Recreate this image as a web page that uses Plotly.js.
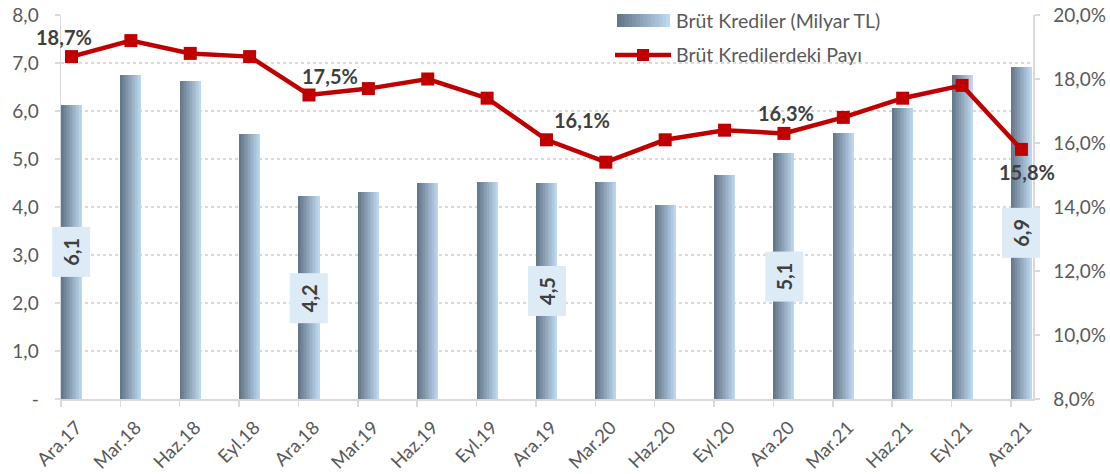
<!DOCTYPE html>
<html>
<head>
<meta charset="utf-8">
<script src="https://cdn.plot.ly/plotly-3.0.1.min.js"></script>
<style>
  html, body { margin: 0; padding: 0; background: #fff; }
  #chart { width: 1110px; height: 474px; }
</style>
</head>
<body>
<div id="chart"></div>
<script>
// ---------- DATA ----------
const categories = ['Ara.17','Mar.18','Haz.18','Eyl.18','Ara.18','Mar.19','Haz.19','Eyl.19','Ara.19','Mar.20','Haz.20','Eyl.20','Ara.20','Mar.21','Haz.21','Eyl.21','Ara.21'];
const krediler = [6.13, 6.74, 6.62, 5.53, 4.22, 4.31, 4.50, 4.52, 4.50, 4.52, 4.04, 4.67, 5.12, 5.55, 6.07, 6.74, 6.92];
const pay = [18.7, 19.2, 18.8, 18.7, 17.5, 17.7, 18.0, 17.4, 16.1, 15.4, 16.1, 16.4, 16.3, 16.8, 17.4, 17.8, 15.8];
const leftTickVals = [0, 1, 2, 3, 4, 5, 6, 7, 8];
const leftTickText = ['-', '1,0', '2,0', '3,0', '4,0', '5,0', '6,0', '7,0', '8,0'];
const rightTickVals = [8, 10, 12, 14, 16, 18, 20];
const rightTickText = ['8,0%', '10,0%', '12,0%', '14,0%', '16,0%', '18,0%', '20,0%'];
const labeledIdx = [0, 4, 8, 12, 16];
const seriesNames = ['Brüt Krediler (Milyar TL)', 'Brüt Kredilerdeki Payı'];

// ---------- STYLE ----------
const FONT = 'Lato, "Liberation Sans", sans-serif';
const TXT = '#595959';
const LBL = '#404040';
const RED = '#C00000';
const GRID = '#D9D9D9';
const W = 0.354;            // bar width (category units)
const NSTRIP = 14;
const dark = [100, 118, 137], light = [189, 215, 238];
function mix(t) {
  const c = dark.map((d, j) => Math.round(d + (light[j] - d) * t));
  return 'rgb(' + c.join(',') + ')';
}
const fmt = v => v.toFixed(1).replace('.', ',');

// plot area in px
const L = 61, R = 1033, T = 15, B = 399;
const px2x = px => (px - L) / (R - L);
const py2y = py => (B - py) / (B - T);

const xs = categories.map((c, i) => i);

const traces = [];
for (let k = 0; k < NSTRIP; k++) {
  const off = -W / 2 + k * W / NSTRIP;
  traces.push({
    type: 'bar', x: xs, y: krediler,
    width: W - k * W / NSTRIP, offset: off,
    marker: { color: mix(k / (NSTRIP - 1)), line: { width: 0 } },
    name: seriesNames[0], showlegend: false, hoverinfo: 'skip'
  });
}
traces.push({
  type: 'scatter', mode: 'lines+markers', x: xs, y: pay, yaxis: 'y2',
  name: seriesNames[1], showlegend: false,
  line: { color: RED, width: 4.5 },
  marker: { symbol: 'square', size: 13, color: RED }
});

const annotations = [];
// bar labels
labeledIdx.forEach(i => {
  annotations.push({
    x: i, y: krediler[i] / 2, xref: 'x', yref: 'y',
    text: fmt(krediler[i]), showarrow: false, textangle: -90,
    bgcolor: '#DDEBF7', width: 47, height: 35,
    font: { family: FONT, size: 20, color: LBL, weight: 'bold' }
  });
});
// line labels
const lineShift = [[-8, 20], [21, 19], [36, 20], [2, 20], [6, -23]];
labeledIdx.forEach((i, n) => {
  annotations.push({
    x: i, y: pay[i], xref: 'x', yref: 'y2',
    text: fmt(pay[i]) + '%', showarrow: false,
    xshift: lineShift[n][0], yshift: lineShift[n][1],
    font: { family: FONT, size: 20, color: LBL, weight: 'bold' }
  });
});
// legend texts
annotations.push({
  xref: 'paper', yref: 'paper', x: px2x(674), y: py2y(20), xanchor: 'left', yanchor: 'middle',
  text: seriesNames[0], showarrow: false, font: { family: FONT, size: 19.5, color: TXT }
});
annotations.push({
  xref: 'paper', yref: 'paper', x: px2x(674), y: py2y(55), xanchor: 'left', yanchor: 'middle',
  text: seriesNames[1], showarrow: false, font: { family: FONT, size: 19.5, color: TXT }
});

const shapes = [];
// legend white backgrounds
shapes.push({ type: 'rect', xref: 'paper', yref: 'paper', layer: 'between',
  x0: px2x(612), x1: px2x(884), y0: py2y(38), y1: py2y(4), fillcolor: '#fff', line: { width: 0 } });
shapes.push({ type: 'rect', xref: 'paper', yref: 'paper', layer: 'between',
  x0: px2x(612), x1: px2x(862), y0: py2y(70), y1: py2y(38), fillcolor: '#fff', line: { width: 0 } });
// gradient swatch
const sx0 = 617, sx1 = 670;
for (let k = 0; k < NSTRIP; k++) {
  shapes.push({ type: 'rect', xref: 'paper', yref: 'paper', layer: 'above',
    x0: px2x(sx0 + (sx1 - sx0) * k / NSTRIP), x1: px2x(sx1),
    y0: py2y(27), y1: py2y(14), fillcolor: mix(k / (NSTRIP - 1)), line: { width: 0 } });
}
// line swatch
shapes.push({ type: 'line', xref: 'paper', yref: 'paper', layer: 'above',
  x0: px2x(615), x1: px2x(671), y0: py2y(55), y1: py2y(55), line: { color: RED, width: 4.5 } });
shapes.push({ type: 'rect', xref: 'paper', yref: 'paper', layer: 'above',
  x0: px2x(637), x1: px2x(649), y0: py2y(61), y1: py2y(49), fillcolor: RED, line: { width: 0 } });

const layout = {
  width: 1110, height: 474,
  margin: { l: L, r: 1110 - R, t: T, b: 474 - B, pad: 0 },
  paper_bgcolor: '#fff', plot_bgcolor: '#fff',
  font: { family: FONT, size: 19, color: TXT },
  barmode: 'overlay', bargap: 0,
  showlegend: false,
  xaxis: {
    range: [-0.177, 16.195], tickmode: 'array', tickvals: xs, ticktext: categories,
    tickangle: -45, ticks: '', showline: true, linecolor: GRID, linewidth: 1.5,
    showgrid: false, zeroline: false, fixedrange: true, ticklabelstandoff: 9, ticklabelshift: 5,
    tickfont: { family: FONT, size: 18.5, color: TXT },
    minor: { tickmode: 'array', tickvals: xs.map(i => i - 0.177), ticks: 'outside', ticklen: 6, tickcolor: GRID, tickwidth: 1.5, showgrid: false }
  },
  yaxis: {
    range: [0, 8], tickmode: 'array', tickvals: leftTickVals, ticktext: leftTickText,
    showgrid: true, gridcolor: GRID, griddash: 'dot', gridwidth: 1.5,
    showline: true, linecolor: GRID, linewidth: 1.5, ticks: 'outside', ticklen: 5, tickcolor: GRID, tickwidth: 1.5,
    zeroline: false, ticklabelstandoff: 12, fixedrange: true,
    tickfont: { family: FONT, size: 19, color: TXT }
  },
  yaxis2: {
    range: [8, 20], overlaying: 'y', side: 'right', tickmode: 'array', tickvals: rightTickVals, ticktext: rightTickText,
    showgrid: false, showline: true, linecolor: GRID, linewidth: 1.5, ticks: 'outside', ticklen: 5, tickcolor: GRID, tickwidth: 1.5,
    zeroline: false, ticklabelstandoff: 10, fixedrange: true,
    tickfont: { family: FONT, size: 19, color: TXT }
  },
  annotations: annotations,
  shapes: shapes
};

Plotly.newPlot('chart', traces, layout, { displayModeBar: false, staticPlot: true });
</script>
</body>
</html>
